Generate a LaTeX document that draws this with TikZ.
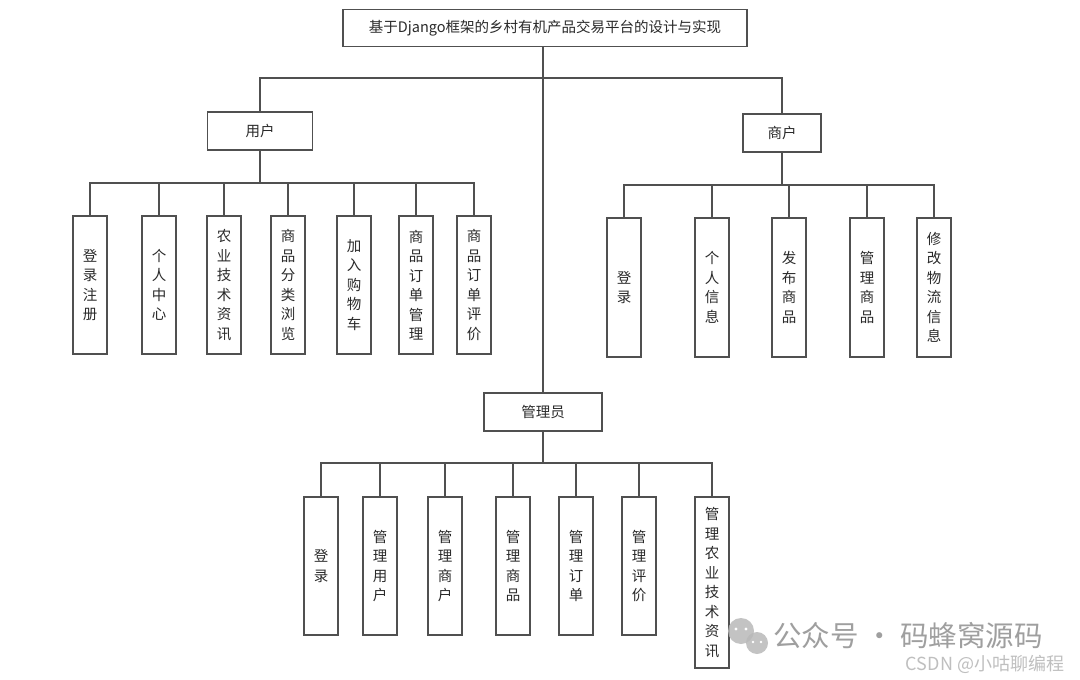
\documentclass[tikz,border=0pt]{standalone}
\usepackage{fontspec}
\newfontfamily\cjk{Noto Sans CJK SC}
\definecolor{ln}{HTML}{505050}
\definecolor{tx}{HTML}{2A2A2A}
\begin{document}
\begin{tikzpicture}[x=1pt,y=-1pt,
  every node/.style={font=\cjk\fontsize{14.5}{19.5}\selectfont, text=tx},
  box/.style={draw=ln, line width=1.2pt, inner sep=0pt},
  vbox/.style={box, minimum width=34pt, minimum height=138pt, align=center},
  link/.style={draw=ln, line width=1.2pt}]
\useasboundingbox (0,0) rectangle (1080,680);
\fill[white] (0,0) rectangle (1080,680);

% main nodes
\node[box, minimum width=404pt, minimum height=37pt] (root) at (545,28) {基于Django框架的乡村有机产品交易平台的设计与实现};
\node[box, minimum width=105pt, minimum height=38pt] (user) at (260,131) {用户};
\node[box, minimum width=78pt, minimum height=38pt] (merch) at (782,133) {商户};
\node[box, minimum width=118pt, minimum height=38pt] (admin) at (543,412) {管理员};

% user children
\node[vbox] (u1) at (90,285) {登\\录\\注\\册};
\node[vbox] (u2) at (159,285) {个\\人\\中\\心};
\node[vbox] (u3) at (224,285) {农\\业\\技\\术\\资\\讯};
\node[vbox] (u4) at (288,285) {商\\品\\分\\类\\浏\\览};
\node[vbox] (u5) at (354,285) {加\\入\\购\\物\\车};
\node[vbox] (u6) at (416,285) {商\\品\\订\\单\\管\\理};
\node[vbox] (u7) at (474,285) {商\\品\\订\\单\\评\\价};

% merchant children
\node[vbox, minimum height=139pt] (m1) at (624,287.5) {登\\录};
\node[vbox, minimum height=139pt] (m2) at (712,287.5) {个\\人\\信\\息};
\node[vbox, minimum height=139pt] (m3) at (789,287.5) {发\\布\\商\\品};
\node[vbox, minimum height=139pt] (m4) at (867,287.5) {管\\理\\商\\品};
\node[vbox, minimum height=139pt] (m5) at (934,287.5) {修\\改\\物\\流\\信\\息};

% admin children
\node[vbox] (a1) at (321,566) {登\\录};
\node[vbox] (a2) at (380,566) {管\\理\\用\\户};
\node[vbox] (a3) at (445,566) {管\\理\\商\\户};
\node[vbox] (a4) at (513,566) {管\\理\\商\\品};
\node[vbox] (a5) at (576,566) {管\\理\\订\\单};
\node[vbox] (a6) at (639,566) {管\\理\\评\\价};
\node[vbox, minimum height=171pt] (a7) at (712,582.5) {管\\理\\农\\业\\技\\术\\资\\讯};

% bus coordinates
\coordinate (topbus) at (543,78);
\coordinate (ubus) at (260,183);
\coordinate (mbus) at (782,185);
\coordinate (abus) at (543,463);

% connectors
\draw[link] (user.north) |- (topbus);
\draw[link] (merch.north) |- (topbus);
\draw[link] (root.south -| topbus) -- (admin.north);
\draw[link] (user.south) -- (ubus);
\foreach \c in {u1,u2,u3,u4,u5,u6,u7} \draw[link] (\c.north) |- (ubus);
\draw[link] (merch.south) -- (mbus);
\foreach \c in {m1,m2,m3,m4,m5} \draw[link] (\c.north) |- (mbus);
\draw[link] (admin.south) -- (abus);
\foreach \c in {a1,a2,a3,a4,a5,a6,a7} \draw[link] (\c.north) |- (abus);

% watermark
\fill[gray!55, opacity=0.85] (741,631) circle (13);
\fill[gray!55, opacity=0.85] (757,643) circle (11);
\fill[white] (736,629) circle (1.6) (746,629) circle (1.6) (753,642) circle (1.4) (761,642) circle (1.4);
\node[font=\cjk\fontsize{28.5}{30}\selectfont, text=gray!75] (wm1) at (908,636) {公众号 · 码蜂窝源码};
\node[font=\cjk\fontsize{18}{20}\selectfont, text=gray!50] (wm2) at (985,664) {CSDN @小咕聊编程};
\end{tikzpicture}
\end{document}
